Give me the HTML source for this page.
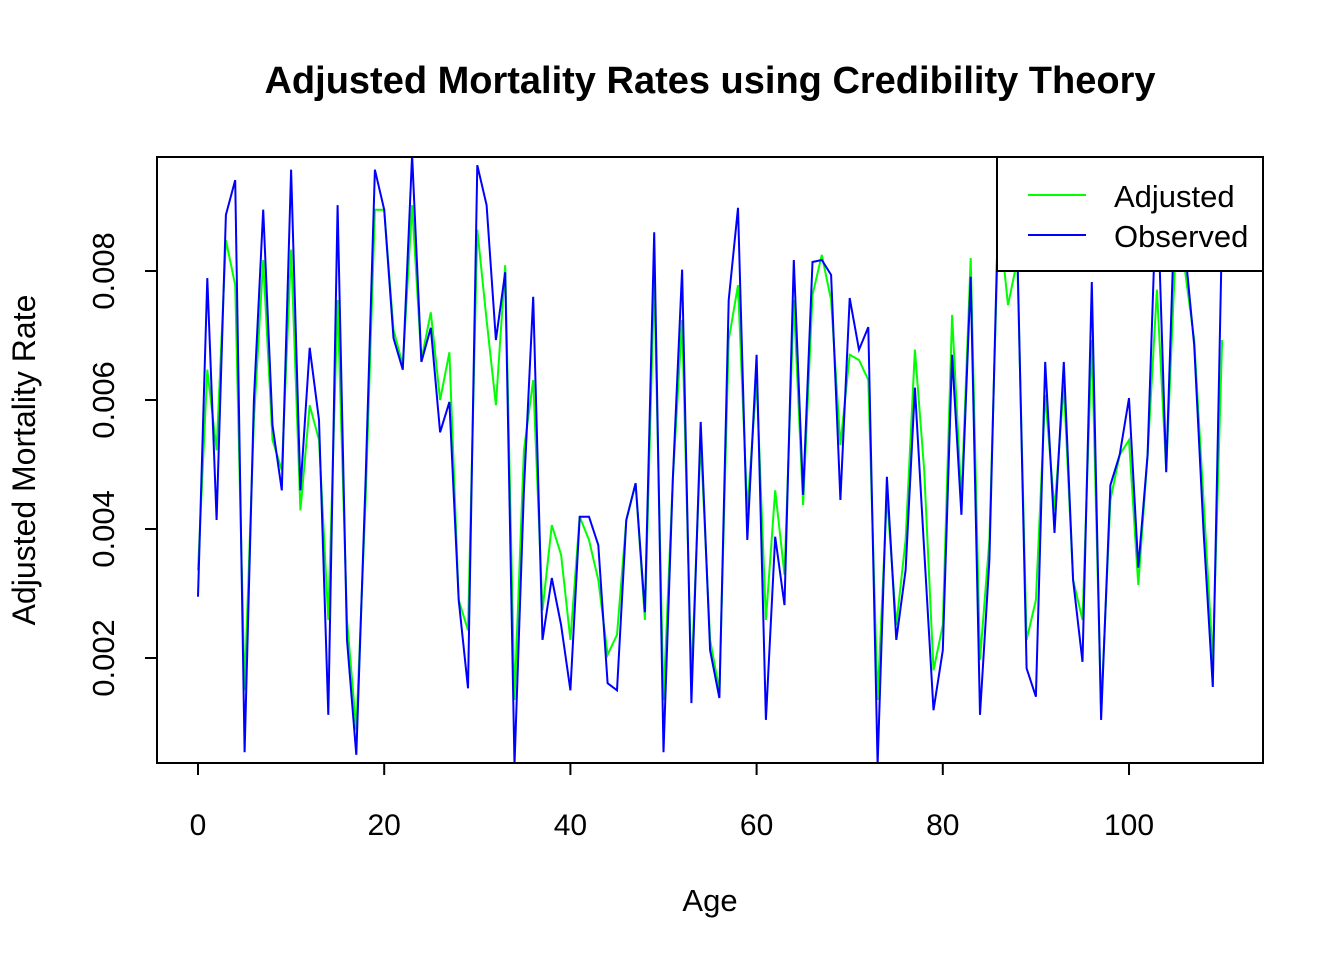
<!DOCTYPE html>
<html><head><meta charset="utf-8"><style>
html,body{margin:0;padding:0;background:#fff;}
svg text{font-family:"Liberation Sans",Arial,sans-serif;}
</style></head><body>
<svg id="chart" width="1344" height="960" xmlns="http://www.w3.org/2000/svg">
<rect width="1344" height="960" fill="#fff"/>
<text x="710" y="93" text-anchor="middle" font-size="38" font-weight="bold">Adjusted Mortality Rates using Credibility Theory</text>
<defs><clipPath id="pc"><rect x="157" y="157" width="1106" height="606"/></clipPath></defs>
<g id="series" clip-path="url(#pc)"></g>
<rect x="157" y="157" width="1106" height="606" fill="none" stroke="#000" stroke-width="2"/>
<g id="axes"></g>
<text x="710" y="911" text-anchor="middle" font-size="31">Age</text>
<text transform="translate(35,460) rotate(-90)" text-anchor="middle" font-size="32">Adjusted Mortality Rate</text>
<g>
<rect x="997" y="157" width="266" height="114" fill="#fff" stroke="#000" stroke-width="2"/>
<line x1="1028" y1="195" x2="1086" y2="195" stroke="#00ff00" stroke-width="2"/>
<text x="1114" y="207" font-size="31">Adjusted</text>
<line x1="1028" y1="235" x2="1086" y2="235" stroke="#0000ff" stroke-width="2"/>
<text x="1114" y="247" font-size="31">Observed</text>
</g>
</svg>
<script>
const observed = [2.95,7.89,4.14,8.87,9.41,0.54,6.0,8.95,5.61,4.60,9.57,4.60,6.81,5.69,1.12,9.02,2.28,0.50,4.76,9.57,8.95,6.96,6.47,9.80,6.59,7.12,5.50,5.97,2.90,1.53,9.64,9.02,6.93,7.98,0.34,4.60,7.60,2.28,3.24,2.51,1.50,4.19,4.19,3.75,1.61,1.50,4.14,4.71,2.71,8.60,0.54,4.76,8.02,1.30,5.66,2.12,1.38,7.55,8.98,3.83,6.70,1.04,3.88,2.82,8.17,4.53,8.14,8.17,7.94,4.45,7.58,6.78,7.13,0.34,4.81,2.28,3.36,6.19,3.67,1.19,2.12,6.70,4.22,7.91,1.12,3.52,9.26,9.10,8.36,1.84,1.40,6.59,3.94,6.59,3.21,1.94,7.83,1.04,4.68,5.15,6.03,3.40,5.15,9.44,4.88,9.41,8.36,6.85,3.98,1.55,8.71];
const adjusted = [3.36,6.47,5.22,8.48,7.78,1.50,5.69,8.17,5.38,4.91,8.33,4.29,5.92,5.38,2.59,7.55,2.59,0.88,4.45,8.95,8.95,7.09,6.54,9.02,6.62,7.36,6.0,6.74,2.90,2.43,8.64,7.24,5.92,8.09,1.35,5.22,6.31,2.74,4.06,3.60,2.28,4.19,3.83,3.21,2.05,2.36,4.14,4.71,2.59,7.86,1.35,4.76,7.24,1.66,5.38,2.28,1.50,6.93,7.78,4.29,6.31,2.59,4.60,3.29,7.55,4.37,7.63,8.25,7.55,5.30,6.70,6.62,6.31,1.35,4.53,2.51,3.83,6.78,4.91,1.81,2.51,7.32,4.45,8.20,1.97,3.83,8.87,7.47,8.17,2.28,2.90,6.08,4.29,6.23,3.21,2.59,6.93,1.19,4.45,5.15,5.38,3.13,5.15,7.71,4.91,8.33,8.02,6.93,4.45,1.97,6.93];
const xTicks = [0,20,40,60,80,100];
const yTicks = [0.002,0.004,0.006,0.008];
const yTickLabels = ["0.002","0.004","0.006","0.008"];

const NS = "http://www.w3.org/2000/svg";
function xScale(a){ return 198 + a*9.31; }
function yScale(v){ return 658 - (v-0.002)*64500; }

const series = document.getElementById('series');
function drawLine(vals, color, name){
  const p = document.createElementNS(NS,'polyline');
  p.setAttribute('points', vals.map((v,i)=>xScale(i).toFixed(1)+','+yScale(v/1000).toFixed(1)).join(' '));
  p.setAttribute('fill','none');
  p.setAttribute('stroke',color);
  p.setAttribute('stroke-width','2');
  
  
  series.appendChild(p);
}
drawLine(adjusted,'#00ff00','adjusted-line');
drawLine(observed,'#0000ff','observed-line');

const axes = document.getElementById('axes');
xTicks.forEach(t=>{
  const l = document.createElementNS(NS,'line');
  l.setAttribute('x1',xScale(t)); l.setAttribute('x2',xScale(t));
  l.setAttribute('y1',763); l.setAttribute('y2',775);
  l.setAttribute('stroke','#000'); l.setAttribute('stroke-width','2');
  
  
  axes.appendChild(l);
  const tx = document.createElementNS(NS,'text');
  tx.setAttribute('x',xScale(t)); tx.setAttribute('y',835);
  tx.setAttribute('text-anchor','middle'); tx.setAttribute('font-size','30');
  tx.textContent = String(t);
  
  
  axes.appendChild(tx);
});
const xa = document.createElementNS(NS,'line');
xa.setAttribute('x1',xScale(0)); xa.setAttribute('x2',xScale(100));
xa.setAttribute('y1',763); xa.setAttribute('y2',763);
xa.setAttribute('stroke','#000'); xa.setAttribute('stroke-width','2');


axes.appendChild(xa);
yTicks.forEach((t,i)=>{
  const l = document.createElementNS(NS,'line');
  l.setAttribute('x1',145); l.setAttribute('x2',157);
  l.setAttribute('y1',yScale(t)); l.setAttribute('y2',yScale(t));
  l.setAttribute('stroke','#000'); l.setAttribute('stroke-width','2');
  
  
  axes.appendChild(l);
  const tx = document.createElementNS(NS,'text');
  tx.setAttribute('transform','translate(114,'+yScale(t)+') rotate(-90)');
  tx.setAttribute('text-anchor','middle'); tx.setAttribute('font-size','31');
  tx.textContent = yTickLabels[i];
  
  
  axes.appendChild(tx);
});
</script>
</body></html>
